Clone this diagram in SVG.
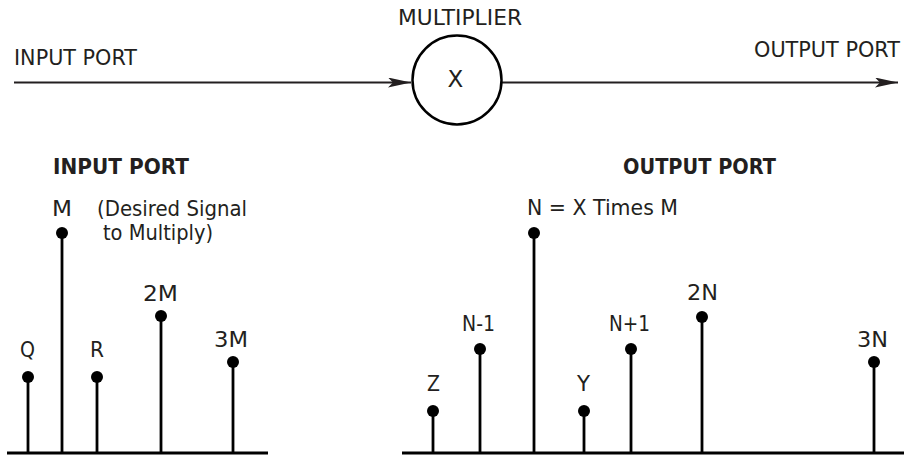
<svg xmlns="http://www.w3.org/2000/svg" width="904" height="455" viewBox="0 0 904 455">
<style>
text{font-family:"DejaVu Sans","Liberation Sans",sans-serif;font-size:21px;fill:#231f20}
.b{font-weight:bold}
.ln{stroke:#231f20;stroke-width:2.2;fill:none}
.st{stroke:#000;stroke-width:2.8}
.base{stroke:#000;stroke-width:3.2}
.dot{fill:#000}
</style>
<defs>
<marker id="ah" markerUnits="userSpaceOnUse" markerWidth="24" markerHeight="12" refX="23" refY="5" orient="auto">
<path d="M0,0 L23,5 L0,10 L5,5 Z" fill="#231f20"/>
</marker>
</defs>
<g id="connectors">
<line class="ln" x1="14" y1="82.5" x2="411" y2="82.5" marker-end="url(#ah)"/>
<line class="ln" x1="502" y1="82.5" x2="898" y2="82.5" marker-end="url(#ah)"/>
</g>
<g id="multiplier">
<circle cx="457" cy="80" r="44.5" fill="none" stroke="#000" stroke-width="2.5"/>
<text x="455.5" y="87" text-anchor="middle" style="font-size:23px">X</text>
<text x="398" y="25" textLength="124" lengthAdjust="spacingAndGlyphs">MULTIPLIER</text>
</g>
<g id="input-label"><text x="14" y="65" textLength="123" lengthAdjust="spacingAndGlyphs">INPUT PORT</text></g>
<g id="output-label"><text x="754" y="57" textLength="146" lengthAdjust="spacingAndGlyphs">OUTPUT PORT</text></g>
<g id="input-spectrum">
<text class="b" x="53" y="174" textLength="136" lengthAdjust="spacingAndGlyphs">INPUT PORT</text>
<line class="base" x1="7" y1="453" x2="268" y2="453"/>
<line class="st" x1="28" y1="377" x2="28" y2="453"/><circle class="dot" cx="28" cy="377" r="6"/>
<line class="st" x1="62" y1="233" x2="62" y2="453"/><circle class="dot" cx="62" cy="233" r="6"/>
<line class="st" x1="97" y1="377" x2="97" y2="453"/><circle class="dot" cx="97" cy="377" r="6"/>
<line class="st" x1="161" y1="316" x2="161" y2="453"/><circle class="dot" cx="161" cy="316" r="6"/>
<line class="st" x1="233" y1="362" x2="233" y2="453"/><circle class="dot" cx="233" cy="362" r="6"/>
<text x="20" y="357" textLength="15" lengthAdjust="spacingAndGlyphs">Q</text>
<text x="52" y="216" textLength="20" lengthAdjust="spacingAndGlyphs">M</text>
<text x="97" y="216" textLength="150" lengthAdjust="spacingAndGlyphs">(Desired Signal</text>
<text x="103" y="240" textLength="110" lengthAdjust="spacingAndGlyphs">to Multiply)</text>
<text x="90" y="357" textLength="14" lengthAdjust="spacingAndGlyphs">R</text>
<text x="143" y="301" textLength="35" lengthAdjust="spacingAndGlyphs">2M</text>
<text x="214" y="347" textLength="34" lengthAdjust="spacingAndGlyphs">3M</text>
</g>
<g id="output-spectrum">
<text class="b" x="623" y="174" textLength="153" lengthAdjust="spacingAndGlyphs">OUTPUT PORT</text>
<line class="base" x1="402" y1="453" x2="904" y2="453"/>
<line class="st" x1="433" y1="411" x2="433" y2="453"/><circle class="dot" cx="433" cy="411" r="6"/>
<line class="st" x1="480" y1="349" x2="480" y2="453"/><circle class="dot" cx="480" cy="349" r="6"/>
<line class="st" x1="534" y1="233" x2="534" y2="453"/><circle class="dot" cx="534" cy="233" r="6"/>
<line class="st" x1="584" y1="411" x2="584" y2="453"/><circle class="dot" cx="584" cy="411" r="6"/>
<line class="st" x1="631" y1="349" x2="631" y2="453"/><circle class="dot" cx="631" cy="349" r="6"/>
<line class="st" x1="702" y1="317" x2="702" y2="453"/><circle class="dot" cx="702" cy="317" r="6"/>
<line class="st" x1="874" y1="362" x2="874" y2="453"/><circle class="dot" cx="874" cy="362" r="6"/>
<text x="527" y="215" textLength="151" lengthAdjust="spacingAndGlyphs">N = X Times M</text>
<text x="427" y="391" textLength="13" lengthAdjust="spacingAndGlyphs">Z</text>
<text x="462" y="331" textLength="33" lengthAdjust="spacingAndGlyphs">N-1</text>
<text x="577" y="391" textLength="13" lengthAdjust="spacingAndGlyphs">Y</text>
<text x="609" y="331" textLength="41" lengthAdjust="spacingAndGlyphs">N+1</text>
<text x="687" y="300" textLength="31" lengthAdjust="spacingAndGlyphs">2N</text>
<text x="857" y="347" textLength="31" lengthAdjust="spacingAndGlyphs">3N</text>
</g>
</svg>
